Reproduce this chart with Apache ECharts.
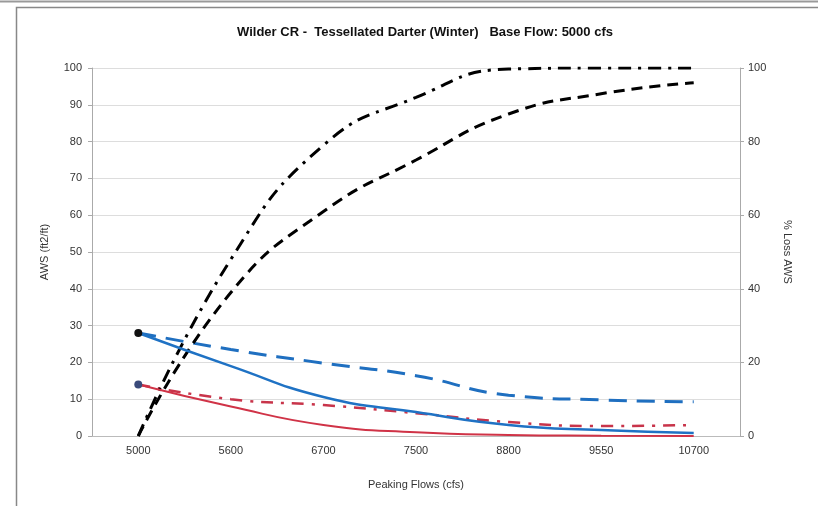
<!DOCTYPE html>
<html><head><meta charset="utf-8">
<script src="https://cdn.jsdelivr.net/npm/echarts@6/dist/echarts.min.js"></script>
<style>html,body{margin:0;padding:0;background:#fff}#c{width:818px;height:506px}</style>
</head><body><div id="c"></div>
<script>
const categories = ['5000','5600','6700','7500','8800','9550','10700'];
const awsBlue = [28, 19, 10.6, 6.5, 3, 1.6, 0.8];
const awsRed = [14, 8, 3, 1, 0.3, 0.1, 0];
const awsBlueAlt = [28, 23.5, 19.8, 16.4, 11.1, 9.8, 9.3];
const awsRedAlt = [14, 10, 8.4, 6.2, 3.8, 2.7, 3];
const lossDashDot = [0, 48, 79, 92, 99.7, 100, 100];
const lossDashed = [0, 39, 61, 75, 87.5, 93, 96];
const leftTicks = {min: 0, max: 100, interval: 10};
const rightTicks = {min: 0, max: 100, interval: 20};

function firstMarked(arr, color) {
  return arr.map((v, i) => i === 0 ? {value: v, symbol: 'circle', symbolSize: 8, itemStyle: {color: color}} : v);
}
const font = 'Arial, "Liberation Sans", sans-serif';
const chart = echarts.init(document.getElementById('c'));
chart.setOption({
  animation: false,
  backgroundColor: '#fff',
  title: {text: 'Wilder CR -  Tessellated Darter (Winter)   Base Flow: 5000 cfs', left: 420, textAlign: 'center', top: 21,
    textStyle: {fontFamily: font, fontSize: 13, fontWeight: 'bold', color: '#111'}},
  graphic: [
    {type: 'line', shape: {x1: 0, y1: 1.5, x2: 818, y2: 1.5}, style: {stroke: '#999', lineWidth: 2}},
    {type: 'polyline', shape: {points: [[16.5, 506], [16.5, 7.5], [818, 7.5]]}, style: {stroke: '#888', lineWidth: 1.5, fill: null}}
  ],
  grid: {left: 92, right: 78, top: 68, bottom: 70},
  xAxis: {type: 'category', data: categories, boundaryGap: true,
    name: 'Peaking Flows (cfs)', nameLocation: 'middle', nameGap: 43,
    nameTextStyle: {fontFamily: font, fontSize: 11, color: '#333'},
    axisLine: {lineStyle: {color: '#bbb'}}, axisTick: {show: false},
    axisLabel: {fontFamily: font, fontSize: 11, color: '#333', margin: 9}},
  yAxis: [
    {type: 'value', min: leftTicks.min, max: leftTicks.max, interval: leftTicks.interval,
      name: 'AWS (ft2/ft)', nameLocation: 'middle', nameGap: 42, nameRotate: 90,
      nameTextStyle: {fontFamily: font, fontSize: 11, color: '#333'},
      axisLine: {show: true, lineStyle: {color: '#aaa'}}, axisTick: {show: true, length: 4, lineStyle: {color: '#aaa'}},
      axisLabel: {fontFamily: font, fontSize: 11, color: '#333', margin: 10},
      splitLine: {lineStyle: {color: '#ddd'}}},
    {type: 'value', min: rightTicks.min, max: rightTicks.max, interval: rightTicks.interval,
      name: '% Loss AWS', nameLocation: 'middle', nameGap: 42, nameRotate: -90,
      nameTextStyle: {fontFamily: font, fontSize: 11, color: '#333'},
      axisLine: {show: true, lineStyle: {color: '#aaa'}}, axisTick: {show: true, length: 4, lineStyle: {color: '#aaa'}},
      axisLabel: {fontFamily: font, fontSize: 11, color: '#333', margin: 8},
      splitLine: {show: false}}
  ],
  series: [
    {type: 'line', name: 'lossDashDot', yAxisIndex: 1, data: lossDashDot, smooth: 0.5, symbol: 'none',
      lineStyle: {color: '#000', width: 3, type: [13, 7, 3, 7]}, z: 3},
    {type: 'line', name: 'lossDashed', yAxisIndex: 1, data: lossDashed, smooth: 0.5, symbol: 'none',
      lineStyle: {color: '#000', width: 3, type: [11, 7]}, z: 3},
    {type: 'line', name: 'awsBlueAlt', data: awsBlueAlt, smooth: 0.5, symbol: 'none',
      lineStyle: {color: '#1f6fc0', width: 3, type: [18, 10]}, z: 2},
    {type: 'line', name: 'awsRedAlt', data: awsRedAlt, smooth: 0.5, symbol: 'none',
      lineStyle: {color: '#c8344a', width: 2.5, type: [12, 8, 3, 8]}, z: 2},
    {type: 'line', name: 'awsRed', data: firstMarked(awsRed, '#3a4a7a'), smooth: 0.5, symbol: 'none',
      lineStyle: {color: '#d03347', width: 2}, z: 4},
    {type: 'line', name: 'awsBlue', data: firstMarked(awsBlue, '#111'), smooth: 0.5, symbol: 'none',
      lineStyle: {color: '#1f72c4', width: 2.5}, z: 4}
  ]
});
</script></body></html>
